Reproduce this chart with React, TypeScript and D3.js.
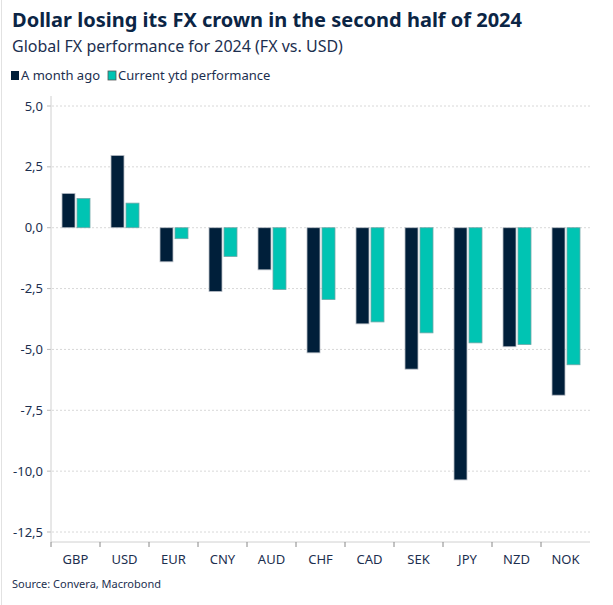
import React from "react";
import * as d3 from "d3";

const categories = ["GBP", "USD", "EUR", "CNY", "AUD", "CHF", "CAD", "SEK", "JPY", "NZD", "NOK"];
const monthAgo = [1.41, 2.97, -1.4, -2.62, -1.73, -5.14, -3.95, -5.81, -10.36, -4.89, -6.88];
const currentYtd = [1.2, 1.01, -0.45, -1.18, -2.54, -2.95, -3.87, -4.32, -4.73, -4.8, -5.63];
const yTicks = [5, 2.5, 0, -2.5, -5, -7.5, -10, -12.5];
const seriesNames = ["A month ago", "Current ytd performance"];

const W = 613;
const H = 605;
const FONT = "'Noto Sans', 'Open Sans', sans-serif";
const DARK = "#001f3a";
const TEAL = "#00c4b3";
const TEXT = "#1c2f4f";

export default function App() {
  const left = 51, right = 590, top = 96, bottom = 542;
  const x = d3.scaleBand<string>().domain(categories).range([left, right]);
  const y = d3.scaleLinear().domain([-12.5, 5]).range([532, 106]);
  const fmt = (v: number) => d3.format(".1f")(v).replace(".", ",").replace("−", "-");
  const bw = 13;
  return (
    <svg width={W} height={H} style={{ position: "absolute", left: 0, top: 0, background: "#fff" }} fontFamily={FONT}>
      <line x1={1.5} x2={1.5} y1={0} y2={H} stroke="#e2e2e2" />
      <text x={12} y={27} fontSize={20} fontWeight={700} fill="#0b2545">Dollar losing its FX crown in the second half of 2024</text>
      <text x={12} y={52} fontSize={16} fill={TEXT}>Global FX performance for 2024 (FX vs. USD)</text>
      <g fontSize={13} fill={TEXT}>
        <rect x={11} y={71} width={8} height={9} fill={DARK} />
        <text x={21} y={80}>{seriesNames[0]}</text>
        <rect x={108} y={71} width={8} height={9} fill={TEAL} stroke="#555" strokeWidth={0.8} />
        <text x={118} y={80}>{seriesNames[1]}</text>
      </g>
      {yTicks.map((t) => (
        <g key={t}>
          <line x1={left + 1} x2={right} y1={y(t)} y2={y(t)} stroke="#d8d8d8" strokeDasharray="2,2" />
          <line x1={left - 4} x2={left} y1={y(t)} y2={y(t)} stroke="#bbb" />
          <text x={left - 8} y={y(t)} dy="0.35em" textAnchor="end" fontSize={13} fill={TEXT}>{fmt(t)}</text>
        </g>
      ))}
      <line x1={left} x2={left} y1={top} y2={bottom} stroke="#d0d0d0" />
      <line x1={left} x2={right} y1={bottom} y2={bottom} stroke="#d0d0d0" />
      {categories.map((c, i) => {
        const cx = (x(c) as number) + x.bandwidth() / 2;
        const a = monthAgo[i];
        const b = currentYtd[i];
        return (
          <g key={c}>
            <line x1={x(c)} x2={x(c)} y1={bottom} y2={bottom + 5} stroke="#888" />
            <rect x={cx - 13.5} y={Math.min(y(a), y(0))} width={bw} height={Math.abs(y(a) - y(0))} fill={DARK} stroke="#b8bec6" strokeWidth={0.8} />
            <rect x={cx + 1.5} y={Math.min(y(b), y(0))} width={bw} height={Math.abs(y(b) - y(0))} fill={TEAL} stroke="#6fa8a8" strokeWidth={0.8} />
            <text x={cx} y={564} textAnchor="middle" fontSize={13} fill={TEXT}>{c}</text>
          </g>
        );
      })}
      <text x={12} y={588} fontSize={11} fill={TEXT}>Source: Convera, Macrobond</text>
    </svg>
  );
}
